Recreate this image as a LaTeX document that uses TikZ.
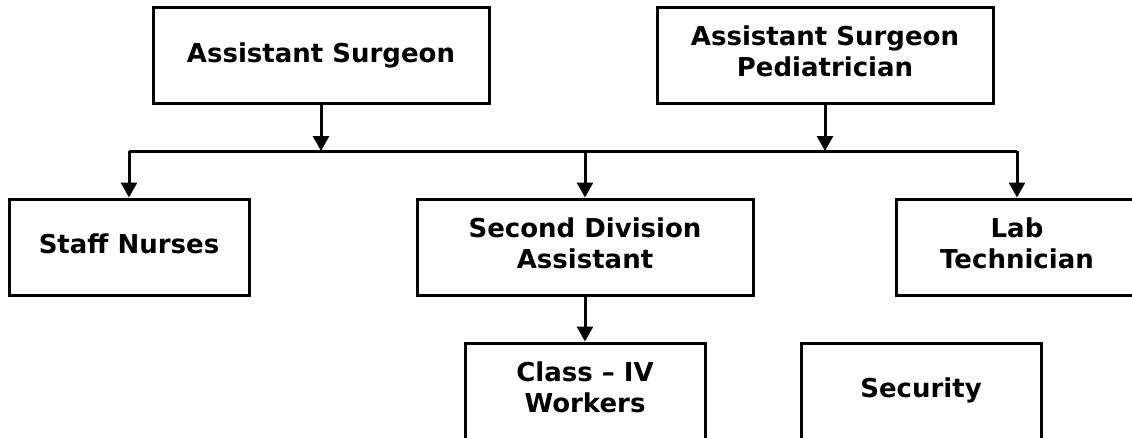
\documentclass[tikz,border=0pt]{standalone}
\usepackage{fontspec}
\setmainfont{DejaVu Sans}
\usetikzlibrary{arrows.meta,positioning,calc}
\newcommand{\orgdrop}{\rule[-8pt]{0pt}{0pt}}
\tikzset{
  org/box/.style={
    draw=black,
    line width=3pt,
    fill=white,
    align=center,
    text=black,
    inner sep=0pt,
    minimum height=96pt,
    font=\fontsize{26}{31}\selectfont\bfseries
  },
  org/wide/.style={org/box, minimum width=336pt},
  org/narrow/.style={org/box, minimum width=240pt},
  org/arrow/.style={-{Triangle[length=15pt,width=16pt]}, line width=3pt, draw=black},
  org/line/.style={line width=3pt, draw=black}
}
\begin{document}
\begin{tikzpicture}[x=1pt,y=-1pt]
  \clip (0,0) rectangle (1132,437);
  \fill[white] (0,0) rectangle (1132,437);
  \node[org/wide] (as) at (321,55) {Assistant Surgeon};
  \node[org/wide] (asp) at (825,55) {Assistant Surgeon\\Pediatrician\orgdrop};
  \node[org/narrow] (nurses) at (129,247) {\strut Staff Nurses};
  \node[org/wide] (sda) at (585,247) {Second Division\\Assistant\orgdrop};
  \node[org/narrow, minimum width=242pt] (lab) at (1017,247) {Lab\\Technician\orgdrop};
  \node[org/narrow] (class) at (585,391) {Class -- IV\\Workers\orgdrop};
  \node[org/narrow] (security) at (921,391) {\strut Security};
  \coordinate (busL) at (129,151);
  \coordinate (busR) at (1017,151);
  \draw[org/line] (busL) -- (busR);
  \draw[org/arrow] (as.south) -- (as.south |- busL);
  \draw[org/arrow] (asp.south) -- (asp.south |- busL);
  \draw[org/arrow] (busL) -- (nurses.north);
  \draw[org/arrow] (sda.north |- busL) -- (sda.north);
  \draw[org/arrow] (busR) -- (lab.north);
  \draw[org/arrow] (sda.south) -- (class.north);
\end{tikzpicture}
\end{document}
